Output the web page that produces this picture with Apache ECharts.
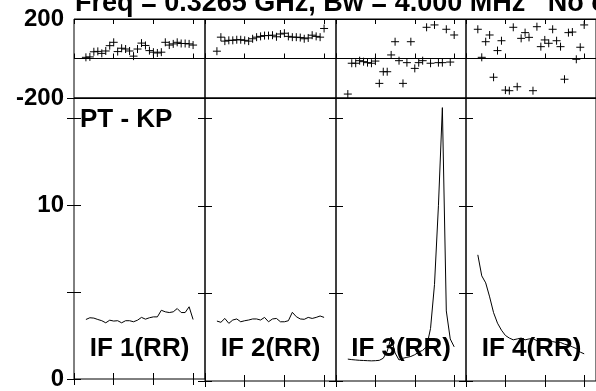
<!DOCTYPE html>
<html>
<head>
<meta charset="utf-8">
<script src="https://cdn.jsdelivr.net/npm/echarts@6/dist/echarts.min.js"></script>
<style>
html, body { margin: 0; padding: 0; background: #fff; }
#chart { width: 596px; height: 391px; }
</style>
</head>
<body>
<div id="chart"></div>
<script>
// channel numbers plotted in every panel
const channels = [3, 4, 5, 6, 7, 8, 9, 10, 11, 12, 13, 14, 15, 16, 17, 18, 19, 20, 21, 22, 23, 24, 25, 26, 27, 28, 29, 30];
const ifNames = ['IF 1(RR)', 'IF 2(RR)', 'IF 3(RR)', 'IF 4(RR)'];

// phase (degrees), top row
const phase1 = [6, 8, 34, 36, 26, 38, 65, 82, 35, 52, 48, 38, 12, 48, 78, 66, 40, 32, 28, 32, 82, 68, 74, 82, 76, 76, 74, 68];
const phase2 = [37, 108, 88, 92, 92, 95, 95, 92, 88, 100, 108, 112, 116, 116, 118, 110, 124, 128, 112, 108, 108, 106, 100, 104, 118, 112, 108, 152];
const phase3 = [-180, -24, -24, -11, -16, -21, -24, -13, -126, -67, -67, 18, 85, -11, -126, -21, 85, -50, -21, -11, 158, -24, 170, -21, -21, 148, -18, 119];
const phase4 = [148, 6, 85, 119, -95, 40, 90, -160, -163, 158, -143, 102, 131, 107, -163, 161, 60, 94, 77, 148, 90, 60, -105, 131, 134, -4, 57, 170];

// amplitude, bottom row
const amp1 = [3.42, 3.52, 3.50, 3.42, 3.35, 3.23, 3.38, 3.33, 3.35, 3.23, 3.35, 3.35, 3.29, 3.38, 3.54, 3.44, 3.52, 3.57, 3.57, 3.95, 3.86, 3.82, 3.86, 4.05, 3.82, 3.82, 4.15, 3.42];
const amp2 = [3.42, 3.35, 3.57, 3.29, 3.48, 3.54, 3.38, 3.44, 3.48, 3.54, 3.54, 3.48, 3.63, 3.38, 3.54, 3.57, 3.38, 3.38, 3.44, 3.92, 3.67, 3.54, 3.52, 3.63, 3.57, 3.63, 3.71, 3.63];
const amp3 = [1.25, 1.22, 1.2, 1.18, 1.17, 1.16, 1.15, 1.16, 1.18, 1.3, 1.7, 2.5, 1.6, 1.2, 1.3, 1.35, 1.4, 1.5, 1.65, 1.75, 1.95, 3.0, 5.5, 10, 15.6, 4.0, 2.4, 1.95];
const amp4 = [7.2, 6.0, 5.6, 4.8, 3.9, 3.3, 2.9, 2.6, 2.45, 2.35, 2.4, 2.45, 2.35, 2.4, 2.42, 2.3, 2.35, 2.3, 2.3, 2.25, 2.2, 2.2, 2.1, 2.05, 1.95, 1.85, 1.65, 1.55];

const phaseLabels = [-200, 200];
const ampLabels = [0, 10];

const phases = [phase1, phase2, phase3, phase4];
const amps = [amp1, amp2, amp3, amp4];

const FONT = '"Liberation Sans", Arial, sans-serif';
const lefts = [74, 205, 336, 466];
const widths = [131, 131, 130, 131];
const phaseTop = 19, phaseH = 79;
const ampTop = 98, ampH = 283;

const grids = [], xAxes = [], yAxes = [], series = [], graphics = [];

const plus = 'path://M4,0 L4,8 M0,4 L8,4';

const makeX = (gi, pos, len) => ({
    type: 'value', gridIndex: gi, position: pos,
    min: 0, max: 33, interval: 10,
    axisLine: { show: false },
    axisTick: { show: true, inside: true, length: len, lineStyle: { color: '#000', width: 1 } },
    axisLabel: { show: false },
    splitLine: { show: false }
});

for (let i = 0; i < 4; i++) {
    // phase panel
    grids.push({ left: lefts[i], width: widths[i], top: phaseTop, height: phaseH,
        show: true, borderColor: '#000', borderWidth: 1, backgroundColor: 'transparent' });
    // amplitude panel
    grids.push({ left: lefts[i], width: widths[i], top: ampTop, height: ampH,
        show: true, borderColor: '#000', borderWidth: 1, backgroundColor: 'transparent' });
}

for (let i = 0; i < 4; i++) {
    const gp = i * 2, ga = i * 2 + 1;
    // x axes: bottom (used by series) and top (ticks only)
    xAxes.push(makeX(gp, 'bottom', 5));
    xAxes.push(makeX(gp, 'top', 5));
    xAxes.push(makeX(ga, 'bottom', 6));
    xAxes.push(makeX(ga, 'top', 6));

    yAxes.push({
        type: 'value', gridIndex: gp, position: 'left',
        min: -200, max: 200, interval: 200,
        axisLine: { show: false },
        axisTick: { show: false },
        axisLabel: {
            show: i === 0, margin: 10, color: '#000',
            fontFamily: FONT, fontWeight: 'bold', fontSize: 24,
            formatter: v => phaseLabels.includes(v) ? String(v) : ''
        },
        splitLine: { show: true, lineStyle: { color: '#000', width: 1 } }
    });
    yAxes.push({
        type: 'value', gridIndex: ga, position: 'left',
        min: 0, max: 16.15, interval: 5,
        axisLine: { show: false },
        axisTick: { show: true, inside: true, length: 7, lineStyle: { color: '#000', width: 1 } },
        axisLabel: {
            show: i === 0, margin: 10, color: '#000', showMaxLabel: false,
            fontFamily: FONT, fontWeight: 'bold', fontSize: 24,
            formatter: v => ampLabels.includes(v) ? String(v) : ''
        },
        splitLine: { show: false }
    });
    yAxes.push({
        type: 'value', gridIndex: ga, position: 'right',
        min: 0, max: 16.15, interval: 5,
        axisLine: { show: false },
        axisTick: { show: true, inside: true, length: 7, lineStyle: { color: '#000', width: 1 } },
        axisLabel: { show: false },
        splitLine: { show: false }
    });
}

for (let i = 0; i < 4; i++) {
    const xp = i * 4, xa = i * 4 + 2;
    const yp = i * 3, ya = i * 3 + 1;
    series.push({
        type: 'scatter', xAxisIndex: xp, yAxisIndex: yp, z: 3,
        symbol: plus, symbolSize: 8,
        itemStyle: { color: 'transparent', borderColor: '#000', borderWidth: 1, opacity: 1 },
        data: channels.map((c, k) => [c, phases[i][k]])
    });
    series.push({
        type: 'line', xAxisIndex: xa, yAxisIndex: ya, z: 3,
        showSymbol: false, symbol: 'none',
        lineStyle: { color: '#000', width: 1 },
        data: channels.map((c, k) => [c, amps[i][k]])
    });
    graphics.push({
        type: 'text', z: 1,
        x: lefts[i] + widths[i] / 2, y: 349,
        style: { text: ifNames[i], fill: '#000', font: 'bold 26px ' + FONT, align: 'center', verticalAlign: 'middle' }
    });
}

graphics.push({
    type: 'text', z: 1, x: 80, y: 120,
    style: { text: 'PT - KP', fill: '#000', font: 'bold 26px ' + FONT, align: 'left', verticalAlign: 'middle' }
});
graphics.push({
    type: 'text', z: 1, x: 75, y: 4,
    style: { text: 'Freq = 0.3265 GHz, Bw = 4.000 MHz   No calibration applied', fill: '#000', font: 'bold 27px ' + FONT, align: 'left', verticalAlign: 'middle' }
});

const chart = echarts.init(document.getElementById('chart'), null, { renderer: 'canvas' });
chart.setOption({
    animation: false,
    backgroundColor: '#fff',
    grid: grids,
    xAxis: xAxes,
    yAxis: yAxes,
    series: series,
    graphic: graphics
});
</script>
</body>
</html>
